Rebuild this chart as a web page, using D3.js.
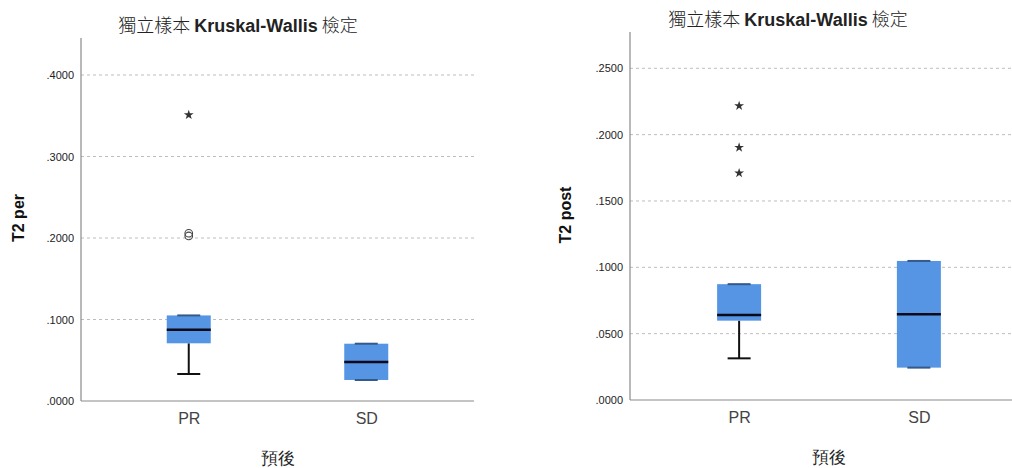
<!DOCTYPE html>
<html><head><meta charset="utf-8">
<script src="https://cdn.jsdelivr.net/npm/d3@7"></script>
<style>
body{margin:0;background:#fff;}
svg{display:block;}
text{font-family:"Liberation Sans",Arial,sans-serif;}
</style></head>
<body>
<svg id="c" width="1012" height="468"></svg>
<script>
const categories = ["PR", "SD"];
// T2 per: [lowerWhisker, Q1, median, Q3, upperWhisker]
const perStats = [[0.0331, 0.0708, 0.0875, 0.1050, 0.1050], [0.0258, 0.0258, 0.0479, 0.0703, 0.0703]];
const perCircles = [[0, 0.2058], [0, 0.2025]];
const perStars = [[0, 0.351]];
const perTicks = [0, 0.1, 0.2, 0.3, 0.4];
// T2 post
const postStats = [[0.0314, 0.0598, 0.0641, 0.0873, 0.0873], [0.0244, 0.0244, 0.0646, 0.1048, 0.1048]];
const postCircles = [];
const postStars = [[0, 0.2217], [0, 0.1903], [0, 0.1710]];
const postTicks = [0, 0.05, 0.1, 0.15, 0.2, 0.25];

const svg = d3.select("#c");
const fmt = d => d3.format(".4f")(d).replace(/^0/, "");

function panel(o) {
  const g = svg.append("g");
  const y = d3.scaleLinear().domain([0, o.ymaxTick]).range([o.y0, o.yTop]);
  const x = d3.scalePoint().domain(categories).range([o.x0, o.x1]).padding(0.607);
  // grid
  g.selectAll(".grid").data(o.ticks.filter(t => t > 0)).join("line")
    .attr("x1", o.x0).attr("x2", o.x1)
    .attr("y1", d => y(d)).attr("y2", d => y(d))
    .attr("stroke", "#bdbdbd").attr("stroke-width", 1).attr("stroke-dasharray", "3,3");
  // y axis
  const ya = g.append("g").attr("transform", `translate(${o.x0},0)`)
    .call(d3.axisLeft(y).tickValues(o.ticks).tickFormat(fmt).tickSize(0).tickPadding(7));
  ya.select(".domain").remove();
  ya.selectAll("text").attr("font-size", 11).attr("fill", "#222").attr("font-family", "Liberation Sans, Arial, sans-serif");
  g.append("line").attr("x1", o.x0).attr("x2", o.x0).attr("y1", o.axisTop).attr("y2", o.y0)
    .attr("stroke", "#8a8a8a").attr("stroke-width", 1.2);
  // x axis
  const xa = g.append("g").attr("transform", `translate(0,${o.y0})`)
    .call(d3.axisBottom(x).tickSize(0).tickPadding(12));
  xa.select(".domain").remove();
  xa.selectAll("text").attr("font-size", 16).attr("fill", "#444").attr("font-family", "Lato, Liberation Sans, sans-serif").attr("font-weight", 300);
  g.append("line").attr("x1", o.x0).attr("x2", o.x1).attr("y1", o.y0).attr("y2", o.y0)
    .attr("stroke", "#8a8a8a").attr("stroke-width", 1.2);
  const bw = 44, cw = 23;
  o.stats.forEach((s, i) => {
    const cx = x(categories[i]);
    // whiskers
    g.append("line").attr("x1", cx).attr("x2", cx).attr("y1", y(s[0])).attr("y2", y(s[1]))
      .attr("stroke", "#111").attr("stroke-width", 2);
    g.append("line").attr("x1", cx).attr("x2", cx).attr("y1", y(s[3])).attr("y2", y(s[4]))
      .attr("stroke", "#111").attr("stroke-width", 2);
    g.append("rect").attr("x", cx - bw / 2).attr("width", bw)
      .attr("y", y(s[3])).attr("height", y(s[1]) - y(s[3]))
      .attr("fill", "#5595e3");
    [s[0], s[4]].forEach((v, k) => {
      g.append("line").attr("x1", cx - cw / 2).attr("x2", cx + cw / 2).attr("y1", y(v)).attr("y2", y(v))
        .attr("stroke", (v === s[1] || v === s[3]) ? "#345a8a" : "#111").attr("stroke-width", 2);
    });
    g.append("line").attr("x1", cx - bw / 2).attr("x2", cx + bw / 2).attr("y1", y(s[2])).attr("y2", y(s[2]))
      .attr("stroke", "#0a0a1a").attr("stroke-width", 2.5);
  });
  o.circles.forEach(c => {
    g.append("circle").attr("cx", x(categories[c[0]])).attr("cy", y(c[1])).attr("r", 3.8)
      .attr("fill", "none").attr("stroke", "#444").attr("stroke-width", 1.1);
  });
  o.stars.forEach(c => {
    g.append("path").attr("d", d3.symbol(d3.symbolStar, 30)())
      .attr("transform", `translate(${x(categories[c[0]])},${y(c[1])})`).attr("fill", "#333");
  });
  // title
  const t = g.append("text").attr("x", o.tx).attr("y", o.ty).attr("text-anchor", "middle")
    .attr("font-size", 18).attr("fill", "#222");
  t.append("tspan").attr("font-family", "Noto Sans CJK TC").attr("font-weight", 300).text("獨立樣本 ");
  t.append("tspan").attr("font-weight", "bold").attr("font-family", "Liberation Sans, Arial").text("Kruskal-Wallis");
  t.append("tspan").attr("font-family", "Noto Sans CJK TC").attr("font-weight", 300).text(" 檢定");
  // y label
  g.append("text").attr("transform", `translate(${o.ylx},${o.yly}) rotate(-90)`)
    .attr("text-anchor", "middle").attr("font-size", 16).attr("font-weight", "bold").attr("fill", "#111")
    .text(o.ylabel);
  // x label
  g.append("text").attr("x", (o.x0 + o.x1) / 2).attr("y", o.xly).attr("text-anchor", "middle")
    .attr("font-size", 17).attr("fill", "#222").attr("font-family", "Noto Serif CJK TC, Noto Sans CJK TC")
    .text("預後");
}

panel({x0: 81, x1: 474, y0: 401, yTop: 75, axisTop: 38, ymaxTick: 0.4, ticks: perTicks,
  stats: perStats, circles: perCircles, stars: perStars, tx: 238, ty: 32, ylabel: "T2 per", ylx: 24, yly: 218, xly: 464});
panel({x0: 630, x1: 1028, y0: 400, yTop: 68.3, axisTop: 32, ymaxTick: 0.25, ticks: postTicks,
  stats: postStats, circles: postCircles, stars: postStars, tx: 788, ty: 26, ylabel: "T2 post", ylx: 571, yly: 215, xly: 463});
</script>
</body></html>
